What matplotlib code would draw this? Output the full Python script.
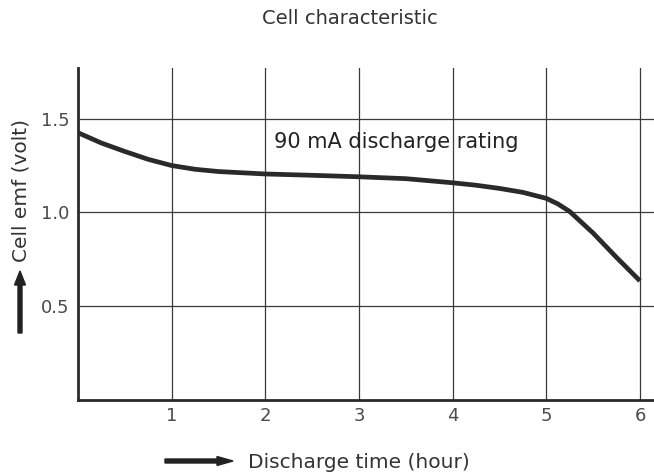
import matplotlib.pyplot as plt
from matplotlib.patches import FancyArrow

plt.rcParams['font.family'] = ['DejaVu Sans']

# Discharge curve
hours = [0, 0.25, 0.5, 0.75, 1, 1.25, 1.5, 2, 2.5, 3, 3.5, 4, 4.25, 4.5, 4.75,
         5, 5.125, 5.25, 5.5, 5.75, 6]
emf = [1.425, 1.37, 1.325, 1.283, 1.25, 1.23, 1.218, 1.205, 1.198, 1.19, 1.18, 1.158,
       1.145, 1.128, 1.107, 1.075, 1.045, 1.005, 0.89, 0.76, 0.635]

x_ticks = [1, 2, 3, 4, 5, 6]
y_ticks = [0.5, 1.0, 1.5]
y_labels = ['0.5', '1.0', '1.5']

fig = plt.figure(figsize=(6.54, 4.74), dpi=100)
ax = fig.add_axes([78 / 654, 74 / 474, 576 / 654, 332 / 474])

ax.plot(hours, emf, color='#2a2a2a', lw=3.4, solid_capstyle='butt',
        solid_joinstyle='round', zorder=3)

ax.set_xlim(0, 6.15)
ax.set_ylim(0, 1.77)
ax.set_xticks(x_ticks)
ax.set_yticks(y_ticks)
ax.set_yticklabels(y_labels)
ax.grid(True, color='#3a3a3a', lw=0.9)
ax.tick_params(length=0, labelsize=13, labelcolor='#4a4a4a')
ax.tick_params(axis='y', pad=6)
ax.tick_params(axis='x', pad=5)

for s in ['top', 'right']:
    ax.spines[s].set_visible(False)
for s in ['left', 'bottom']:
    ax.spines[s].set_linewidth(2)
    ax.spines[s].set_color('#2a2a2a')

ax.text(2.09, 1.375, '90 mA discharge rating', fontsize=15, color='#222222', va='center')

fig.text(350 / 654, 1 - 18 / 474, 'Cell characteristic', fontsize=14, color='#333333',
         ha='center', va='center')

# axis labels with arrows, as in the original
fig.text(21 / 654, 1 - 190 / 474, 'Cell emf (volt)', fontsize=14.5, color='#333333',
         rotation=90, ha='center', va='center')
fig.patches.append(FancyArrow(
    20 / 654, 1 - 333 / 474, 0, 62 / 474, width=4 / 654, head_width=11 / 654,
    head_length=14 / 474, length_includes_head=True, color='#222222',
    transform=fig.transFigure, figure=fig))

fig.text(248 / 654, 1 - 462 / 474, 'Discharge time (hour)', fontsize=14.5, color='#333333',
         ha='left', va='center')
fig.patches.append(FancyArrow(
    165 / 654, 1 - 461 / 474, 68 / 654, 0, width=4 / 474, head_width=9 / 474,
    head_length=16 / 654, length_includes_head=True, color='#222222',
    transform=fig.transFigure, figure=fig))

fig.savefig('out.png', dpi=100)
